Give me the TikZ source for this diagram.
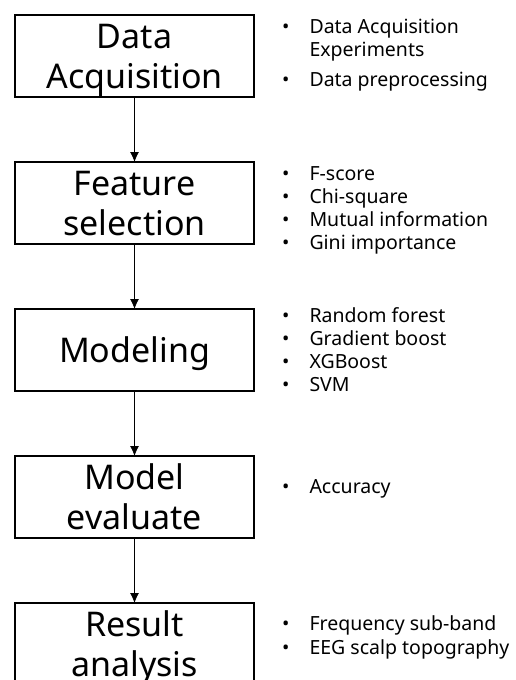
\documentclass[tikz,border=0pt]{standalone}
\usepackage{fontspec}
\setmainfont{Noto Sans}
\usetikzlibrary{positioning,arrows.meta}

% bullet list set beside a stage box
\newcommand{\notelist}[1]{\begin{tabular}[t]{@{}l@{\hspace{20pt}}l@{}}#1\end{tabular}}
% fixed line box for the stage titles
\newcommand{\rowstrut}{\rule[-7.5pt]{0pt}{40pt}}

\begin{document}
\begin{tikzpicture}[x=1pt,y=-1pt,
  		stage/.style={align=center,rectangle,draw,line width=1.6pt,outer sep=0pt,inner sep=0pt,
  			minimum width=239pt,minimum height=82pt,font=\fontsize{34}{40}\selectfont},
  		notes/.style={anchor=base west,inner sep=0pt,font=\fontsize{19.5}{23}\selectfont},
  		flow/.style={-{Latex[length=10pt,width=9pt]},line width=0.8pt},
  		node distance=65pt]
    		\useasboundingbox (0,0) rectangle (516,680);
    		\clip (0,0) rectangle (516,680);
    		% Stages
    		\node[stage,anchor=north west] (acq) at (15,15) {\rowstrut Data\\\rowstrut Acquisition};
    		\node[stage,below=of acq] (sel) {\rowstrut Feature\\\rowstrut selection};
    		\node[stage,below=of sel] (mod) {\rowstrut Modeling};
    		\node[stage,below=of mod] (eva) {\rowstrut Model\\\rowstrut evaluate};
    		\node[stage,below=of eva] (res) {\rowstrut Result\\\rowstrut analysis};
    		% Arrows between stages
    		\draw[flow] (acq.south) -- (sel.north);
    		\draw[flow] (sel.south) -- (mod.north);
    		\draw[flow] (mod.south) -- (eva.north);
    		\draw[flow] (eva.south) -- (res.north);
    		% Notes
    		\node[notes] (acqnotes) at ([xshift=28pt,yshift=-18pt]acq.north east)
    			{\notelist{• & Data Acquisition\\[1pt] & Experiments\\[7pt] • & Data preprocessing}};
    		\node[notes] (selnotes) at ([xshift=28pt,yshift=-18pt]sel.north east)
    			{\notelist{• & F-score\\ • & Chi-square\\ • & Mutual information\\ • & Gini importance}};
    		\node[notes] (modnotes) at ([xshift=28pt,yshift=-13pt]mod.north east)
    			{\notelist{• & Random forest\\ • & Gradient boost\\ • & XGBoost\\ • & SVM}};
    		\node[notes] (evanotes) at ([xshift=28pt,yshift=-37pt]eva.north east)
    			{\notelist{• & Accuracy}};
    		\node[notes] (resnotes) at ([xshift=28pt,yshift=-27pt]res.north east)
    			{\notelist{• & Frequency sub-band\\[1pt] • & EEG scalp topography}};
\end{tikzpicture}
\end{document}
